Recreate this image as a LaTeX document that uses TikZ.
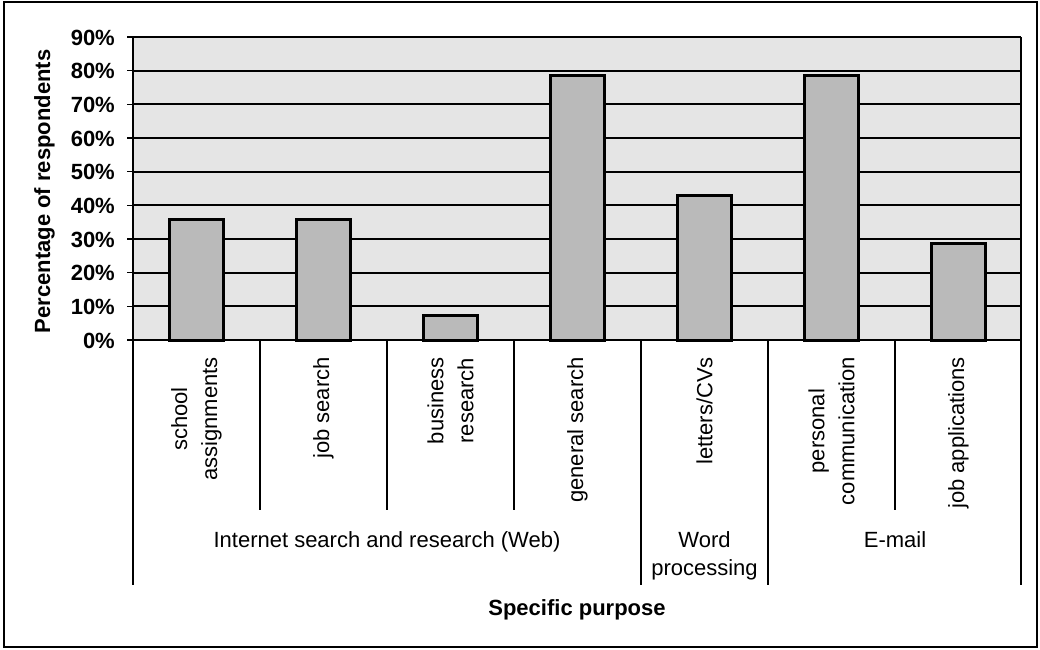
\documentclass[tikz,border=0pt]{standalone}
\usepackage{fontspec}
\setmainfont{Liberation Sans}
\begin{document}
\begin{tikzpicture}[x=1pt,y=-1pt,
  frame/.style={line width=2pt},
  plotbg/.style={fill=black!10, draw=none},
  gridline/.style={line width=2pt},
  barbox/.style={fill=black!27, draw=black, line width=3pt},
  axisline/.style={line width=1.6pt},
  sepline/.style={line width=1.4pt},
  ticklab/.style={font=\bfseries\fontsize{22}{26}\selectfont, anchor=base east, inner sep=0pt},
  catlab/.style={font=\fontsize{22}{30}\selectfont, rotate=90, anchor=east, align=center, inner sep=0pt},
  grouplab/.style={font=\fontsize{22}{28}\selectfont, anchor=base, inner sep=0pt},
  axtitle/.style={font=\bfseries\fontsize{22}{26}\selectfont, anchor=base, inner sep=0pt}
]
\useasboundingbox (0,0) rectangle (1040,649);

% outer frame
\draw[frame] (4,1.5) rectangle (1037,647);

% plot area and gridlines (10% steps, 0 at y=340, 90% at y=37)
\fill[plotbg] (133,37) rectangle (1021,340);
\foreach \k in {1,...,9}
  \draw[gridline] (133,{340-\k*33.667}) -- (1021,{340-\k*33.667});
\draw[gridline] (1021,37) -- (1021,340);

% bars (share of 14 respondents)
\foreach \i/\v in {0/35.714, 1/35.714, 2/7.143, 3/78.571, 4/42.857, 5/78.571, 6/28.571} {
  \pgfmathsetmacro\cx{196.5+127*\i}
  \draw[barbox] ({\cx-27},340) rectangle ({\cx+27},{340-\v*3.3667});
}

% axes and ticks
\draw[axisline] (133,37) -- (133,585);
\draw[axisline] (133,340) -- (1021,340);
\foreach \k in {0,...,9}
  \draw[axisline] (127,{340-\k*33.667}) -- (133,{340-\k*33.667});

% y tick labels
\foreach \k [evaluate=\k as \v using int(10*\k)] in {0,...,9}
  \node[ticklab] (yt\k) at (115,{348-\k*33.667}) {\v\%};

% category separators
\foreach \x in {260,387,514,895}
  \draw[sepline] (\x,340) -- (\x,510);
\foreach \x in {641,768,1021}
  \draw[sepline] (\x,340) -- (\x,585);

% category labels
\node[catlab] (c1) at (196.5,357) {school\\assignments};
\node[catlab] (c2) at (323.5,357) {job search};
\node[catlab] (c3) at (450.5,357) {business\\research};
\node[catlab] (c4) at (577.5,357) {general search};
\node[catlab] (c5) at (704.5,357) {letters/CVs};
\node[catlab] (c6) at (831.5,357) {personal\\communication};
\node[catlab] (c7) at (958.5,357) {job applications};

% group labels
\node[grouplab] (g1) at (387,547) {Internet search and research (Web)};
\node[grouplab] (g2a) at (704.5,547) {Word};
\node[grouplab] (g2b) at (704.5,575) {processing};
\node[grouplab] (g3) at (895,547) {E-mail};

% axis titles
\node[axtitle, rotate=90] (ytitle) at (50,191.5) {Percentage of respondents};
\node[axtitle] (xtitle) at (577,615) {Specific purpose};
\end{tikzpicture}
\end{document}
